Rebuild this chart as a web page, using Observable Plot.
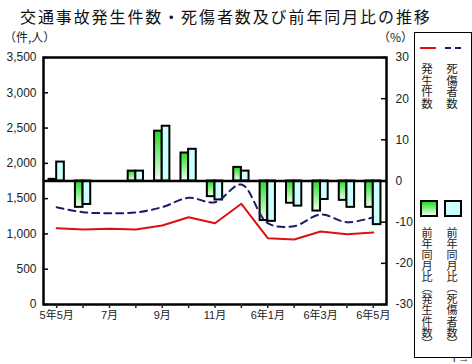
<!DOCTYPE html>
<html><head><meta charset="utf-8">
<script src="https://cdn.jsdelivr.net/npm/d3@7"></script>
<script src="https://cdn.jsdelivr.net/npm/@observablehq/plot@0.6"></script>
<style>
body{margin:0;background:#fff;}
#wrap{position:relative;width:472px;height:364px;overflow:hidden;font-family:"Liberation Sans","Noto Sans CJK JP",sans-serif;color:#222;}
#wrap svg{position:absolute;left:0;top:0;}
.t{position:absolute;white-space:nowrap;}
.v{position:absolute;writing-mode:vertical-rl;font-family:"Noto Sans CJK JP",sans-serif;font-size:11.5px;line-height:12px;color:#222;white-space:nowrap;}
</style></head>
<body><div id="wrap">
<div class="t" style="left:20px;top:5px;font-family:'Noto Sans CJK JP',sans-serif;font-size:16px;letter-spacing:1.9px;line-height:22px;color:#111">交通事故発生件数・死傷者数及び前年同月比の推移</div>
<div class="t" style="left:4px;top:29px;font-family:'Noto Sans CJK JP',sans-serif;font-size:12px;line-height:16px">（件,人）</div>
<div class="t" style="left:378px;top:29px;font-family:'Noto Sans CJK JP',sans-serif;font-size:12px;line-height:16px">（%）</div>
<div id="legend" style="position:absolute;left:414px;top:32px;width:56px;height:324px;border:1px solid #000;background:#fff;">
  <div style="position:absolute;left:5px;top:14px;width:16px;border-top:2px solid #dd1111"></div>
  <div style="position:absolute;left:30px;top:14px;width:16px;border-top:2px dashed #1a1a6e"></div>
  <div class="v" style="left:6px;top:30px">発生件数</div>
  <div class="v" style="left:31px;top:30px">死傷者数</div>
  <div style="position:absolute;left:5px;top:167px;width:14px;height:13px;border:2px solid #000;background:linear-gradient(#22dd22,#eaffea)"></div>
  <div style="position:absolute;left:29px;top:167px;width:14px;height:13px;border:2px solid #000;background:#ccffff"></div>
  <div class="v" style="left:6px;top:194px;font-size:11.1px">前年同月比（発生件数）</div>
  <div class="v" style="left:31px;top:194px;font-size:11.1px">前年同月比（死傷者数）</div>
</div>
</div>
<script>
const months = ["5年5月","6月","7月","8月","9月","10月","11月","12月","6年1月","2月","6年3月","4月","6年5月"];
const accidents = [1081,1063,1072,1063,1119,1237,1152,1427,940,921,1034,996,1020];
const casualties = [1379,1308,1294,1304,1379,1512,1450,1700,1152,1110,1275,1166,1237];
const pctAccidents = [0.4,-6.4,0,2.4,12.1,6.8,-3.8,3.3,-9.6,-5.4,-7.3,-4.7,-6.4];
const pctCasualties = [4.6,-5.7,0,2.4,13.3,7.7,-4.6,2.4,-9.8,-6.1,-4.5,-6.4,-10.6];
const leftTicks = [0,500,1000,1500,2000,2500,3000,3500];
const rightTicks = [-30,-20,-10,0,10,20,30];

const toLeft = p => 1750 + p * 1750 / 30;
const fromLeft = v => Math.round((v - 1750) / 1750 * 30);
const data = months.map((m, i) => ({i, m, acc: accidents[i], cas: casualties[i], pa: pctAccidents[i], pc: pctCasualties[i]}));
const bw = 0.29;

const chart = Plot.plot({
  width: 472, height: 364,
  marginLeft: 43, marginRight: 86, marginTop: 57, marginBottom: 60,
  x: {type: "linear", domain: [-0.5, 12.5], axis: null},
  y: {domain: [0, 3500], axis: null},
  style: {fontFamily: "'Liberation Sans','Noto Sans CJK JP',sans-serif", fontSize: "12px", color: "#222", background: "transparent"},
  marks: [
    Plot.rect(data, {x1: d => d.i - bw, x2: d => d.i, y1: 1750, y2: d => toLeft(d.pa), fill: "url(#gGreen)", stroke: "#000", strokeWidth: 2}),
    Plot.rect(data, {x1: d => d.i, x2: d => d.i + bw, y1: 1750, y2: d => toLeft(d.pc), fill: "#ccffff", stroke: "#000", strokeWidth: 2}),
    Plot.ruleY([1750], {stroke: "#000", strokeWidth: 2.5}),
    Plot.line(data, {x: "i", y: "acc", stroke: "#dd1111", strokeWidth: 2}),
    Plot.line(data, {x: "i", y: "cas", stroke: "#1a1a6e", strokeWidth: 2, strokeDasharray: "7,5", curve: "catmull-rom"}),
    Plot.frame({stroke: "#000", strokeWidth: 2.5}),
    Plot.axisY({ticks: leftTicks, tickFormat: d3.format(","), tickSize: 0, tickPadding: 7, anchor: "left", fontSize: 12}),
    Plot.tickY(leftTicks, {y: d => d, stroke: "#000", strokeWidth: 1.5, insetRight: 343 - 5}),
    Plot.axisY({ticks: rightTicks.map(toLeft), tickFormat: fromLeft, tickSize: 0, tickPadding: 9, anchor: "right", fontSize: 12}),
    Plot.tickY(rightTicks.map(toLeft), {y: d => d, stroke: "#000", strokeWidth: 1.5, insetLeft: 343 - 5}),
    Plot.axisX({ticks: d3.range(13), tickFormat: i => i % 2 ? "" : months[i], tickSize: 4, tickPadding: 3, fontSize: 11, strokeWidth: 1.5})
  ]
});
const ns = "http://www.w3.org/2000/svg";
const defs = document.createElementNS(ns, "defs");
defs.innerHTML = '<linearGradient id="gGreen" x1="0" y1="0" x2="0" y2="1"><stop offset="0" stop-color="#22dd22"/><stop offset="1" stop-color="#f2fff2"/></linearGradient>';
chart.insertBefore(defs, chart.firstChild);
document.getElementById("wrap").insertBefore(chart, document.getElementById("legend"));
</script>
</body></html>
